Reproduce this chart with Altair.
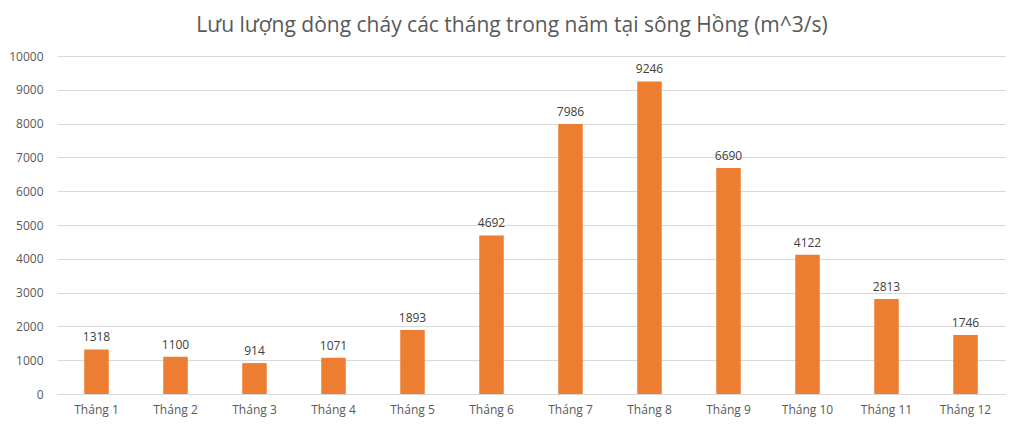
import altair as alt
import pandas as pd

months = ["Tháng 1", "Tháng 2", "Tháng 3", "Tháng 4", "Tháng 5", "Tháng 6",
          "Tháng 7", "Tháng 8", "Tháng 9", "Tháng 10", "Tháng 11", "Tháng 12"]
flows = [1318, 1100, 914, 1071, 1893, 4692, 7986, 9246, 6690, 4122, 2813, 1746]
y_ticks = list(range(0, 10001, 1000))

df = pd.DataFrame({"month": months, "flow": flows})

base = alt.Chart(df).encode(
    x=alt.X("month:N", sort=months, title=None,
            scale=alt.Scale(paddingInner=0.69, paddingOuter=0.345),
            axis=alt.Axis(labelAngle=0, ticks=False, domainColor="#d9d9d9",
                          labelColor="#595959", labelFontSize=12, labelPadding=10,
                          labelFont="Open Sans")),
    y=alt.Y("flow:Q", title=None,
            scale=alt.Scale(domain=[0, 10000], nice=False),
            axis=alt.Axis(values=y_ticks, ticks=False, domain=False, format="d",
                          gridColor="#d9d9d9", labelColor="#595959",
                          labelFontSize=12, labelPadding=14, labelFont="Open Sans")),
)

bars = base.mark_bar(color="#ED7D31")
labels = base.mark_text(dy=-12, fontSize=12, color="#404040", font="Open Sans").encode(
    text="flow:Q")

chart = (bars + labels).properties(
    width=948, height=338,
    autosize=alt.AutoSizeParams(type="none"),
    padding={"left": 49, "top": 48, "right": 10, "bottom": 28},
    title=alt.TitleParams("Lưu lượng dòng cháy các tháng trong năm tại sông Hồng (m^3/s)",
                          fontSize=21, font="Open Sans", fontWeight="normal",
                          color="#595959", offset=14, dx=-19),
).configure_view(stroke=None)

chart.save("out.html", embed_options={"renderer": "svg", "actions": False})
